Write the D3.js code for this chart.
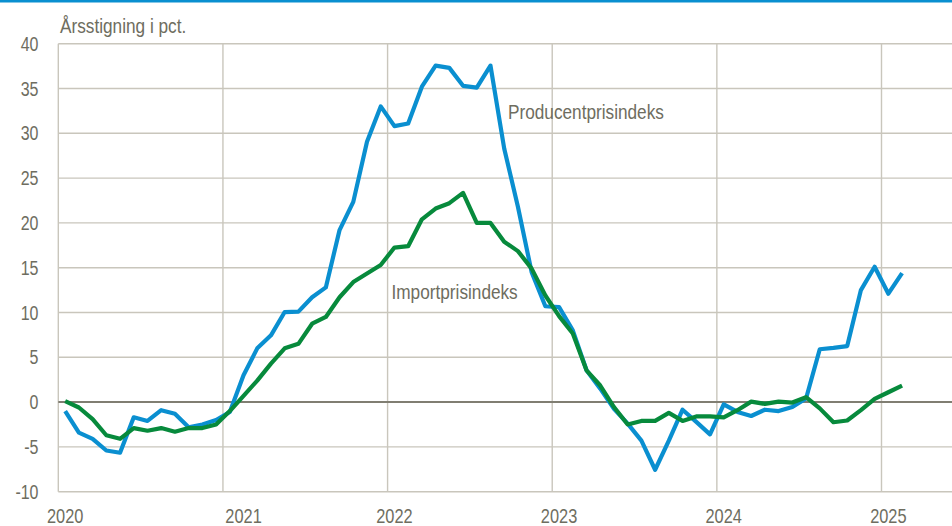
<!DOCTYPE html>
<html lang="da">
<head>
    <meta charset="UTF-8">
    <title>Årsstigning i pct.</title>
    <script src="https://cdnjs.cloudflare.com/ajax/libs/d3/7.8.5/d3.min.js"></script>
    <style>
        html, body { margin: 0; padding: 0; background: #fff; }
        svg { display: block; }
        text { font-family: "Liberation Sans", Arial, sans-serif; fill: #6e6d60; }
    </style>
</head>
<body>
<svg id="chart" width="952" height="526"></svg>
<script>
    // Years on the x axis (monthly data, Jan 2020 - Feb 2025)
    const years = [2020, 2021, 2022, 2023, 2024, 2025];
    // Month index where each year label sits
    const yearLabelMonths = [0, 13, 24, 36, 48, 60];
    const yTicks = [-10, -5, 0, 5, 10, 15, 20, 25, 30, 35, 40];

    // Producentprisindeks, årsstigning i pct.
    const producer = [
        -1.0, -3.4, -4.1, -5.4, -5.65, -1.7, -2.1, -0.9, -1.3, -2.8, -2.5, -2.0,
        -1.1, 3.0, 6.0, 7.45, 10.05, 10.1, 11.7, 12.8, 19.2, 22.35, 29.05, 33.0,
        30.8, 31.1, 35.2, 37.55, 37.3, 35.3, 35.1, 37.55, 28.3, 21.8, 14.5, 10.7,
        10.6, 8.0, 3.55, 1.5, -0.75, -2.4, -4.3, -7.55, -4.3, -0.85, -2.2, -3.6,
        -0.25, -1.1, -1.55, -0.85, -1.0, -0.55, 0.4, 5.9, 6.05, 6.25, 12.5, 15.1,
        12.1, 14.4
    ];

    // Importprisindeks, årsstigning i pct.
    const importIdx = [
        0.1, -0.6, -1.9, -3.7, -4.1, -2.9, -3.2, -2.9, -3.3, -2.9, -2.9, -2.5,
        -1.0, 0.7, 2.4, 4.3, 6.0, 6.5, 8.75, 9.5, 11.7, 13.4, 14.35, 15.3,
        17.25, 17.4, 20.4, 21.6, 22.2, 23.35, 20.0, 20.0, 17.9, 16.85, 14.9, 11.9,
        9.6, 7.65, 3.55, 1.85, -0.55, -2.5, -2.1, -2.1, -1.2, -2.1, -1.6, -1.6,
        -1.7, -0.9, 0.05, -0.2, 0.05, -0.05, 0.55, -0.7, -2.25, -2.05, -0.9, 0.35,
        1.1, 1.85
    ];

    const W = 952, H = 526;
    const plotLeft = 58.3, plotTop = 43.7, plotBottom = 491.7;
    const monthW = 13.72;
    const narrow = 0.82; // squeeze Liberation Sans to look like Arial Narrow

    const svg = d3.select("#chart");

    // x in months since Jan 2020; a month's point sits in the middle of its slot
    const x = d3.scaleLinear().domain([0, 72]).range([plotLeft, plotLeft + 72 * monthW]);
    const y = d3.scaleLinear().domain([-10, 40]).range([plotBottom, plotTop]);

    const place = (px, py) => `translate(${px},${py}) scale(${narrow},1)`;

    // top blue rule
    svg.append("rect")
        .attr("x", 0).attr("y", 0)
        .attr("width", W).attr("height", 2.5)
        .attr("fill", "#0a8fd0");

    // horizontal gridlines
    svg.append("g")
        .selectAll("line")
        .data(yTicks.filter(d => d !== 0))
        .join("line")
        .attr("x1", plotLeft).attr("x2", W)
        .attr("y1", d => y(d)).attr("y2", d => y(d))
        .attr("stroke", "#c9c6bc")
        .attr("stroke-width", 1.4);

    // vertical gridlines at year boundaries
    svg.append("g")
        .selectAll("line")
        .data(years)
        .join("line")
        .attr("x1", (d, i) => x(i * 12)).attr("x2", (d, i) => x(i * 12))
        .attr("y1", plotTop).attr("y2", plotBottom)
        .attr("stroke", "#c9c6bc")
        .attr("stroke-width", 1.4);

    // zero line
    svg.append("line")
        .attr("x1", plotLeft).attr("x2", W)
        .attr("y1", y(0)).attr("y2", y(0))
        .attr("stroke", "#807e72")
        .attr("stroke-width", 2);

    // y tick labels
    svg.append("g")
        .selectAll("text")
        .data(yTicks)
        .join("text")
        .attr("transform", d => place(38.5, y(d) + 7))
        .attr("text-anchor", "end")
        .style("font-size", "19.5px")
        .text(d => d);

    // x tick labels
    svg.append("g")
        .selectAll("text")
        .data(years)
        .join("text")
        .attr("transform", (d, i) => place(x(yearLabelMonths[i] + 0.5), 523))
        .attr("text-anchor", "middle")
        .style("font-size", "20px")
        .text(d => d);

    // axis title
    svg.append("text")
        .attr("transform", place(60, 33))
        .style("font-size", "21px")
        .text("Årsstigning i pct.");

    const line = d3.line()
        .x((d, i) => x(i + 0.5))
        .y(d => y(d));

    svg.append("path")
        .datum(producer)
        .attr("d", line)
        .attr("fill", "none")
        .attr("stroke", "#0a8fd0")
        .attr("stroke-width", 4.2)
        .attr("stroke-linejoin", "round");

    svg.append("path")
        .datum(importIdx)
        .attr("d", line)
        .attr("fill", "none")
        .attr("stroke", "#078a3c")
        .attr("stroke-width", 4.2)
        .attr("stroke-linejoin", "round");

    // series labels
    svg.append("text")
        .attr("transform", place(508, 119))
        .style("font-size", "21px")
        .text("Producentprisindeks");

    svg.append("text")
        .attr("transform", place(391.5, 298.5))
        .style("font-size", "21px")
        .text("Importprisindeks");
</script>
</body>
</html>
